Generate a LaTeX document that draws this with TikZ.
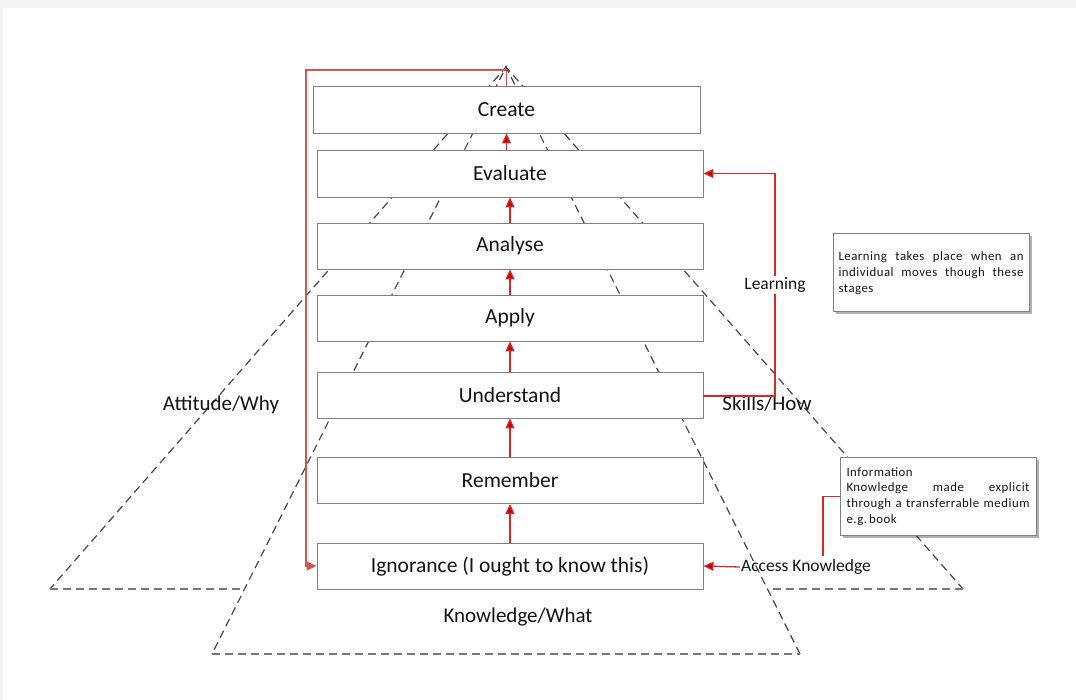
\documentclass[tikz,border=0pt]{standalone}
\usepackage{fontspec}
\setmainfont{Carlito}
\usetikzlibrary{arrows.meta,shadows}
\definecolor{boxline}{RGB}{128,128,128}
\definecolor{dashline}{RGB}{70,70,70}
\definecolor{baseline}{RGB}{120,120,120}
\definecolor{flow}{RGB}{215,40,40}
\definecolor{flowsoft}{RGB}{215,85,80}
\definecolor{tip}{RGB}{192,0,0}
\definecolor{ink}{RGB}{20,20,20}
\tikzset{
  stage/.style={draw=boxline, line width=0.9pt, fill=white, minimum width=386pt,
    minimum height=46pt, inner sep=0pt, text=ink, font=\fontsize{21.5}{24}\selectfont},
  tri/.style={draw=dashline, line width=1.2pt, dash pattern=on 8pt off 5pt, line join=miter},
  triBase/.style={draw=baseline, line width=1.6pt, dash pattern=on 8pt off 5pt},
  lbl/.style={text=ink, inner sep=1pt, font=\fontsize{21}{24}\selectfont},
  smalllbl/.style={text=ink, inner sep=1pt, font=\fontsize{17.5}{21}\selectfont},
  flowline/.style={draw=flow, line width=1.3pt},
  flowarrow/.style={flowline, -{Triangle[length=10pt,width=9pt,fill=tip]}},
  note/.style={draw=boxline, line width=1pt, fill=white, inner sep=0pt,
    minimum width=196pt, minimum height=78pt, text=ink,
    font=\fontsize{12.8}{15.8}\selectfont\addfontfeature{LetterSpace=4},
    align=left,
    drop shadow={shadow xshift=2.5pt, shadow yshift=-2.5pt, opacity=0.3, fill=black}}
}
\begin{document}
\begin{tikzpicture}[x=1pt,y=-1pt]
  % page frame
  \fill[gray!9] (0,0) rectangle (1076,700);
  \fill[white] (3,8) rectangle (1076,700);
  \useasboundingbox (0,0) rectangle (1076,700);

  % three dashed triangles sharing one apex
  \coordinate (apex) at (506,67);
  \coordinate (lbase) at (50,589);
  \coordinate (rbase) at (963,589);
  \coordinate (mid) at (506,589);
  \draw[tri] (mid) -- (apex) -- (lbase);
  \draw[triBase] (lbase) -- (mid);
  \draw[tri] (mid) -- (apex) -- (rbase);
  \draw[triBase] (rbase) -- (mid);
  \coordinate (cl) at (212,654);
  \coordinate (cr) at (800,654);
  \fill[white] (apex) -- (cl) -- (cr) -- cycle;
  \draw[tri] (cr) -- (apex) -- (cl);
  \draw[triBase] (cl) -- (cr);

  \node[lbl] (why) at (221,405) {Attitude/Why};
  \node[lbl] (how) at (767,404) {Skills/How};
  \node[lbl] (what) at (518,617) {Knowledge/What};

  % stages
  \node[stage, minimum width=387pt, minimum height=47pt] (create) at (506.5,109.5) {Create};
  \node[stage, minimum height=47pt] (evaluate) at (510,173.5) {Evaluate};
  \node[stage] (analyse) at (510,246) {Analyse};
  \node[stage] (apply) at (510,318) {Apply};
  \node[stage] (understand) at (510,395) {Understand};
  \node[stage] (remember) at (510,480.5) {Remember};
  \node[stage] (ignorance) at (510,566) {Ignorance (I ought to know this)};

  % upward progression
  \draw[flowarrow] (create.south |- evaluate.north) -- (create.south);
  \draw[flowarrow] (analyse.north) -- (evaluate.south);
  \draw[flowarrow] (apply.north) -- (analyse.south);
  \draw[flowarrow] (understand.north) -- (apply.south);
  \draw[flowarrow] (remember.north) -- (understand.south);
  \draw[flowarrow] (ignorance.north) -- (remember.south);

  % learning loop
  \coordinate (loopR) at (775,396);
  \draw[flowarrow] (understand.east |- loopR) -- (loopR) |- (evaluate.east);
  \node[smalllbl, fill=white] (learning) at (775,285) {Learning};

  % return loop from the top
  \coordinate (loopL) at (306,70);
  \draw[draw=flowsoft, line width=1.2pt, -{Triangle[length=10pt,width=9pt,fill=flowsoft]}]
    (create.north) |- (loopL) |- (ignorance.west);

  % access knowledge
  \node[smalllbl] (access) at (806,567) {Access Knowledge};
  \draw[flowarrow] (access.west) -- (ignorance.east);

  % notes
  \node[note] (note1) at (931,273)
    {\hbox to 185pt{Learning\hfill takes\hfill place\hfill when\hfill an}\\
     \hbox to 185pt{individual\hfill moves\hfill though\hfill these}\\
     stages};
  \node[note] (note2) at (938,496.5)
    {Information\\
     \hbox to 183pt{Knowledge\hfill made\hfill explicit}\\
     \hbox to 183pt{through\hfill a\hfill transferrable\hfill medium}\\
     e.g.\,book};
  \coordinate (noteK) at (823,556);
  \draw[flowline] (note2.west) -| (noteK);
\end{tikzpicture}
\end{document}
